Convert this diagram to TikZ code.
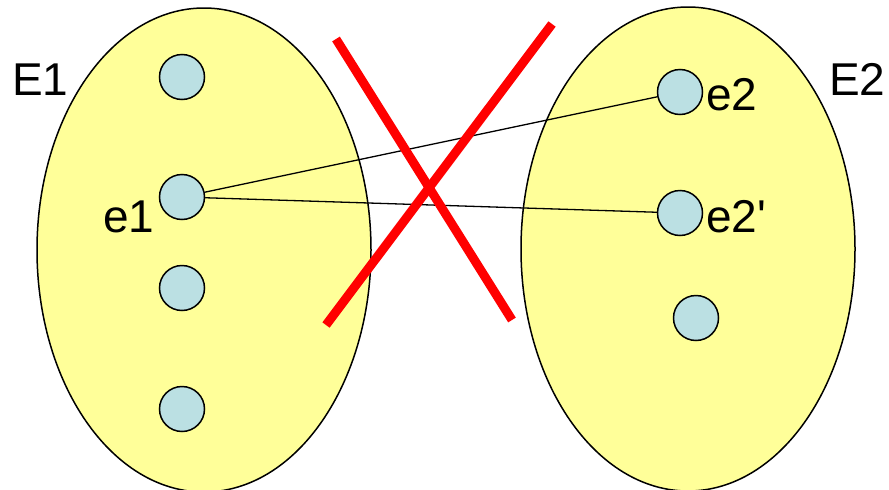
\documentclass[tikz,border=0pt]{standalone}
\usepackage{fontspec}
\setmainfont{Liberation Sans}
\usetikzlibrary{shapes.geometric}
\definecolor{setfill}{HTML}{FFFF99}
\definecolor{eltfill}{HTML}{BBE0E3}
\begin{document}
\begin{tikzpicture}[x=1pt,y=-1pt,
  setnode/.style={ellipse,draw=black,line width=1.5pt,fill=setfill,inner sep=0pt,minimum width=334pt,minimum height=484pt},
  elt/.style={circle,draw=black,line width=1.5pt,fill=eltfill,inner sep=0pt,minimum size=45pt},
  lbl/.style={inner sep=0pt,anchor=base west,font=\fontsize{46}{50}\selectfont},
  link/.style={draw=black,line width=1.3pt},
  cross/.style={draw=red,line width=9pt}]
\useasboundingbox (0,0) rectangle (889,490);
\clip (0,0) rectangle (889,490);
\node[setnode] (S1) at (204,250) {};
\node[setnode] (S2) at (688,249) {};
\node[elt] (a1) at (182,77) {};
\node[elt] (e1) at (182,197) {};
\node[elt] (a3) at (182,288) {};
\node[elt] (a4) at (182,409) {};
\node[elt] (e2) at (680,92) {};
\node[elt] (e2p) at (680,213) {};
\node[elt] (b3) at (696,318) {};
\node[lbl] (tE1) at (12,95) {E1};
\node[lbl] (te1) at (103,232) {e1};
\node[lbl] (te2) at (706,110) {e2};
\node[lbl] (te2p) at (706,232) {e2\textquotesingle};
\node[lbl] (tE2) at (829,95) {E2};
\draw[link] (e1) -- (e2);
\draw[link] (e1) -- (e2p);
\coordinate (x1a) at (336,39);
\coordinate (x1b) at (512,320);
\coordinate (x2a) at (552,24);
\coordinate (x2b) at (326,325);
\draw[cross] (x1a) -- (x1b);
\draw[cross] (x2a) -- (x2b);
\end{tikzpicture}
\end{document}
